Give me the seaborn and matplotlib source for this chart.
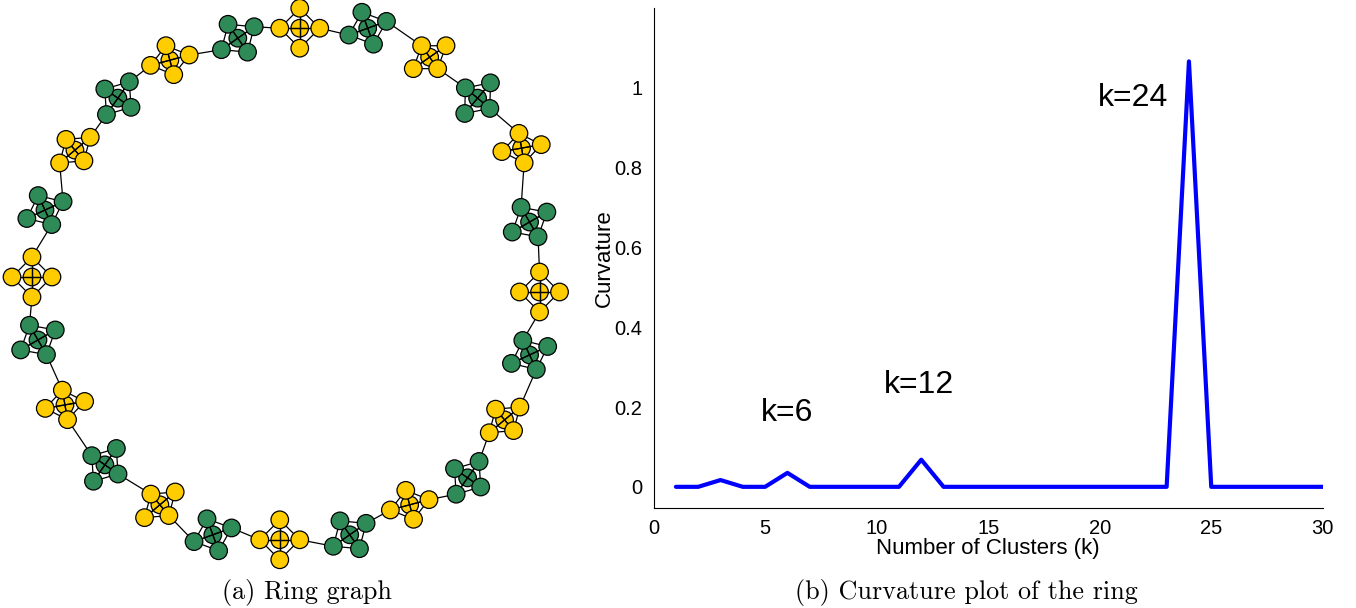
import numpy as np
import matplotlib
matplotlib.use('Agg')
import matplotlib.pyplot as plt
import pandas as pd
import seaborn as sns

# curvature values per number of clusters
k_values = list(range(1, 31))
curvature = [0, 0, 0.017, 0, 0, 0.035, 0, 0, 0, 0, 0, 0.068, 0,
             0, 0, 0, 0, 0, 0, 0, 0, 0, 0, 1.066, 0, 0, 0, 0, 0, 0]
peak_labels = ['k=6', 'k=12', 'k=24']
peak_label_x = [6.0, 11.9, 21.5]
peak_label_y = [0.185, 0.255, 0.975]

# ring graph: cluster centres (pixel coords), rotation / squash of each cluster
cluster_x = [300, 368, 430, 478, 522, 530, 540, 530, 505, 468, 410, 350,
             280, 213, 160, 105, 65, 38, 32, 45, 75, 118, 170, 238]
cluster_y = [28, 28, 57, 98, 148, 222, 292, 355, 420, 478, 505, 535,
             540, 535, 505, 465, 405, 340, 277, 210, 150, 98, 60, 38]
cluster_rot = [0, 20, 35, 50, 10, 30, 0, 25, 40, 55, 15, 35,
               0, 20, 40, 55, 10, 30, 0, 25, 40, 55, 15, 35]
cluster_squash = [1.0, 0.85, 0.7, 0.8, 0.75, 0.85, 1.0, 0.8, 0.7, 0.8, 0.75, 0.85,
                  1.0, 0.85, 0.7, 0.8, 0.75, 0.85, 1.0, 0.8, 0.7, 0.8, 0.75, 0.85]
cluster_color = ['#FFCC00', '#2E8B57'] * 12

sns.set_style('white')
plt.rcParams['font.family'] = ['Liberation Sans', 'DejaVu Sans']
plt.rcParams['text.color'] = 'black'
plt.rcParams['axes.labelcolor'] = 'black'
plt.rcParams['xtick.color'] = 'black'
plt.rcParams['ytick.color'] = 'black'

fig = plt.figure(figsize=(13.56, 6.08), dpi=100)

# ---- left: ring graph
ax1 = fig.add_axes([0.0, 0.0625, 0.42, 0.9375])
nodes = []
for i, (cx, cy) in enumerate(zip(cluster_x, cluster_y)):
    t = np.deg2rad(np.array([90, 0, 270, 180]))
    lx = 20 * np.cos(t)
    ly = 20 * np.sin(t) * cluster_squash[i]
    r = np.deg2rad(cluster_rot[i])
    ox = cx + lx * np.cos(r) - ly * np.sin(r)
    oy = cy - (lx * np.sin(r) + ly * np.cos(r))
    nodes.append((cx, cy, ox, oy))

segs = []
for i, (cx, cy, ox, oy) in enumerate(nodes):
    px = np.concatenate([[cx], ox])
    py = np.concatenate([[cy], oy])
    for a in range(5):
        for b in range(a + 1, 5):
            segs.append(((px[a], px[b]), (py[a], py[b])))
    # link to next cluster through the nearest pair of outer nodes
    nx, ny, nox, noy = nodes[(i + 1) % len(nodes)]
    d = (ox[:, None] - nox[None, :]) ** 2 + (oy[:, None] - noy[None, :]) ** 2
    a_, b_ = np.unravel_index(np.argmin(d), d.shape)
    segs.append(((ox[a_], nox[b_]), (oy[a_], noy[b_])))
for xs, ys in segs:
    ax1.plot(xs, ys, color='black', lw=0.9, zorder=2.5)

rows = []
for i, (cx, cy, ox, oy) in enumerate(nodes):
    rows.append({'x': cx, 'y': cy, 'c': cluster_color[i], 'center': True})
    for j in range(4):
        rows.append({'x': ox[j], 'y': oy[j], 'c': cluster_color[i], 'center': False})
node_df = pd.DataFrame(rows)
cen = node_df[node_df['center']]
out = node_df[~node_df['center']]
sns.scatterplot(data=cen, x='x', y='y', c=cen['c'], s=160, edgecolor='black',
                linewidth=0.9, ax=ax1, zorder=2)
sns.scatterplot(data=out, x='x', y='y', c=out['c'], s=160, edgecolor='black',
                linewidth=0.9, ax=ax1, zorder=3)
ax1.set_xlim(0, 570)
ax1.set_ylim(570, 0)
ax1.set_aspect('equal')
ax1.axis('off')

# ---- right: curvature
ax2 = fig.add_axes([0.482, 0.1645, 0.4935, 0.8225])
df = pd.DataFrame({'k': k_values, 'curvature': curvature})
sns.lineplot(data=df, x='k', y='curvature', color='#0000FF', lw=3, ax=ax2)
for lab, x, y in zip(peak_labels, peak_label_x, peak_label_y):
    ax2.text(x, y, lab, fontsize=23, ha='center', va='center')
ax2.set_xlim(0, 30)
ax2.set_ylim(-0.053, 1.2)
ax2.set_xticks([0, 5, 10, 15, 20, 25, 30])
ax2.set_yticks([0, 0.2, 0.4, 0.6, 0.8, 1])
ax2.set_yticklabels(['0', '0.2', '0.4', '0.6', '0.8', '1'])
ax2.tick_params(direction='in', length=6, width=0.8, labelsize=14.5, pad=8)
ax2.set_xlabel('Number of Clusters (k)', fontsize=16, labelpad=0)
ax2.set_ylabel('Curvature', fontsize=16, labelpad=0)
for s in ['top', 'right']:
    ax2.spines[s].set_visible(False)
for s in ['left', 'bottom']:
    ax2.spines[s].set_color('black')
    ax2.spines[s].set_linewidth(0.8)

fig.text(307 / 1356, 1 - 593 / 608, '(a) Ring graph', family='cmr10', fontsize=18.8,
         ha='center', va='center')
fig.text(966 / 1356, 1 - 593 / 608, '(b) Curvature plot of the ring', family='cmr10',
         fontsize=18.8, ha='center', va='center')

fig.savefig('out.png', dpi=100)
